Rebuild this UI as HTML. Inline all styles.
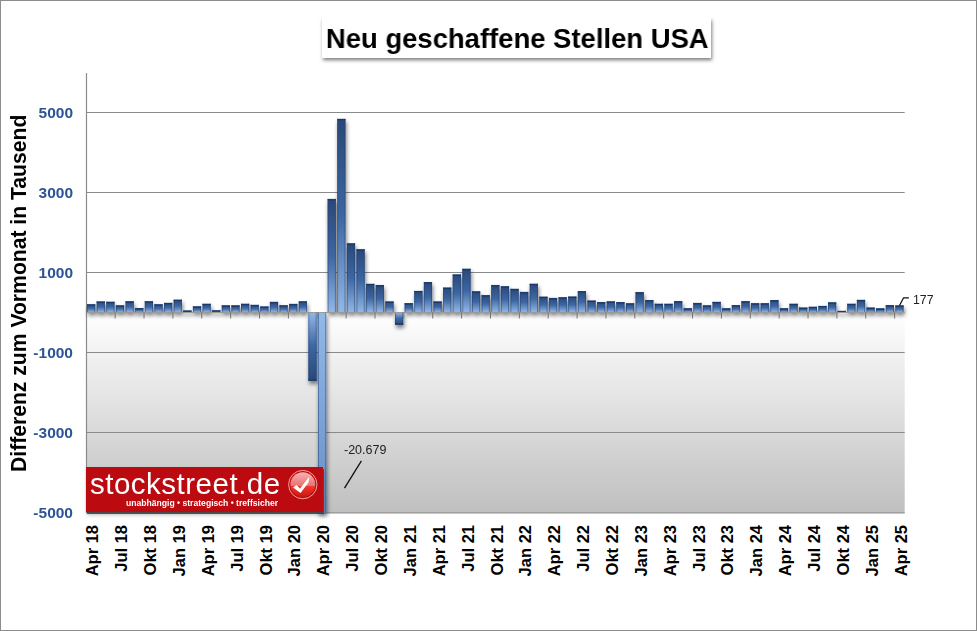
<!DOCTYPE html>
<html><head><meta charset="utf-8">
<style>
html,body{margin:0;padding:0;}
.title span,.yl,.ann,.logo .big,.logo .tag{will-change:transform;}
body{width:977px;height:631px;position:relative;overflow:hidden;background:#fff;font-family:"Liberation Sans",sans-serif;}
.frame{position:absolute;left:0;top:0;width:975px;height:629px;border:1px solid #8c8c8c;}
.title{position:absolute;left:322px;top:17px;width:389px;height:41px;background:#fff;box-shadow:1px 2.5px 3.5px rgba(0,0,0,0.5);}
.title span{position:absolute;left:0;top:5.5px;width:389px;white-space:nowrap;text-align:center;font-weight:bold;font-size:28px;line-height:32px;color:#000;transform:scaleX(0.98);}
svg{position:absolute;left:0;top:0;}
.xl{position:absolute;top:525px;width:0;height:0;transform-origin:0 0;transform:rotate(-90deg);}
.xl span{position:absolute;right:0;top:-10px;line-height:20px;white-space:nowrap;font-weight:bold;font-size:16.5px;color:#000;}
.yl{position:absolute;right:904px;width:60px;text-align:right;font-weight:bold;font-size:15.5px;line-height:18px;color:#2b5592;}
.ytwrap{position:absolute;left:19px;top:471.5px;width:0;height:0;transform-origin:0 0;transform:rotate(-90deg);}
.ytitle{position:absolute;left:0;top:-12px;white-space:nowrap;font-weight:bold;font-size:21.5px;line-height:24px;color:#000;transform-origin:0 50%;transform:scaleX(0.983);}
.logo{position:absolute;left:86px;top:467px;width:237px;height:45px;background:#bb0a10;box-shadow:0.5px 1.5px 0.5px rgba(60,60,60,0.8),1px 3px 4px rgba(0,0,0,0.25);overflow:hidden;}
.logo .big{position:absolute;left:3.5px;top:0.3px;font-size:29.5px;line-height:34px;color:#fff;white-space:nowrap;letter-spacing:0.5px;}
.logo .tag{position:absolute;left:40px;top:31px;font-size:8.6px;line-height:10px;font-weight:bold;color:#fff;white-space:nowrap;}
.ann{position:absolute;font-size:12.5px;line-height:14px;color:#222;white-space:nowrap;}
</style></head><body>
<div class="frame"></div>
<svg width="977" height="631" viewBox="0 0 977 631">
<defs>
<linearGradient id="bg" x1="0" y1="0" x2="0" y2="1"><stop offset="0" stop-color="#ffffff"/><stop offset="1" stop-color="#bfbfbf"/></linearGradient>
<linearGradient id="gp" x1="0" y1="0" x2="0" y2="1"><stop offset="0" stop-color="#2a4877"/><stop offset="0.5" stop-color="#3c66a2"/><stop offset="1" stop-color="#92b8e8"/></linearGradient>
<filter id="sh" x="-10%" y="-10%" width="130%" height="130%"><feGaussianBlur in="SourceAlpha" stdDeviation="2.0"/><feOffset dx="0.6" dy="3.2" result="b"/><feComponentTransfer><feFuncA type="linear" slope="0.52"/></feComponentTransfer><feMerge><feMergeNode/><feMergeNode in="SourceGraphic"/></feMerge></filter>
</defs>
<rect x="86.5" y="312.5" width="818.2" height="200.5" fill="url(#bg)"/>
<line x1="86.5" y1="112.5" x2="904.7" y2="112.5" stroke="#8a8a8a" stroke-width="1.2"/><line x1="86.5" y1="192.5" x2="904.7" y2="192.5" stroke="#8a8a8a" stroke-width="1.2"/><line x1="86.5" y1="272.5" x2="904.7" y2="272.5" stroke="#8a8a8a" stroke-width="1.2"/><line x1="86.5" y1="352.5" x2="904.7" y2="352.5" stroke="#8a8a8a" stroke-width="1.2"/><line x1="86.5" y1="432.5" x2="904.7" y2="432.5" stroke="#8a8a8a" stroke-width="1.2"/>
<line x1="86.5" y1="512.9" x2="904.7" y2="512.9" stroke="#959595" stroke-width="1.2"/>
<line x1="86.5" y1="73" x2="86.5" y2="513" stroke="#8a8a8a" stroke-width="1.2"/>
<g filter="url(#sh)">
<rect x="87.05" y="304.20" width="8.2" height="8.20" fill="url(#gp)"/>
<rect x="87.05" y="304.20" width="0.9" height="8.20" fill="#1f3f70" opacity="0.55"/><rect x="94.35" y="304.20" width="0.9" height="8.20" fill="#1f3f70" opacity="0.55"/>
<rect x="87.05" y="304.50" width="8.2" height="1.2" fill="#1a3868"/>
<rect x="96.67" y="301.40" width="8.2" height="11.00" fill="url(#gp)"/>
<rect x="96.67" y="301.40" width="0.9" height="11.00" fill="#1f3f70" opacity="0.55"/><rect x="103.97" y="301.40" width="0.9" height="11.00" fill="#1f3f70" opacity="0.55"/>
<rect x="96.67" y="301.70" width="8.2" height="1.2" fill="#1a3868"/>
<rect x="106.30" y="301.68" width="8.2" height="10.72" fill="url(#gp)"/>
<rect x="106.30" y="301.68" width="0.9" height="10.72" fill="#1f3f70" opacity="0.55"/><rect x="113.60" y="301.68" width="0.9" height="10.72" fill="#1f3f70" opacity="0.55"/>
<rect x="106.30" y="301.98" width="8.2" height="1.2" fill="#1a3868"/>
<rect x="115.92" y="305.28" width="8.2" height="7.12" fill="url(#gp)"/>
<rect x="115.92" y="305.28" width="0.9" height="7.12" fill="#1f3f70" opacity="0.55"/><rect x="123.22" y="305.28" width="0.9" height="7.12" fill="#1f3f70" opacity="0.55"/>
<rect x="115.92" y="305.58" width="8.2" height="1.2" fill="#1a3868"/>
<rect x="125.54" y="301.20" width="8.2" height="11.20" fill="url(#gp)"/>
<rect x="125.54" y="301.20" width="0.9" height="11.20" fill="#1f3f70" opacity="0.55"/><rect x="132.84" y="301.20" width="0.9" height="11.20" fill="#1f3f70" opacity="0.55"/>
<rect x="125.54" y="301.50" width="8.2" height="1.2" fill="#1a3868"/>
<rect x="135.16" y="308.00" width="8.2" height="4.40" fill="url(#gp)"/>
<rect x="135.16" y="308.00" width="0.9" height="4.40" fill="#1f3f70" opacity="0.55"/><rect x="142.46" y="308.00" width="0.9" height="4.40" fill="#1f3f70" opacity="0.55"/>
<rect x="135.16" y="308.30" width="8.2" height="1.2" fill="#1a3868"/>
<rect x="144.79" y="301.20" width="8.2" height="11.20" fill="url(#gp)"/>
<rect x="144.79" y="301.20" width="0.9" height="11.20" fill="#1f3f70" opacity="0.55"/><rect x="152.09" y="301.20" width="0.9" height="11.20" fill="#1f3f70" opacity="0.55"/>
<rect x="144.79" y="301.50" width="8.2" height="1.2" fill="#1a3868"/>
<rect x="154.41" y="304.20" width="8.2" height="8.20" fill="url(#gp)"/>
<rect x="154.41" y="304.20" width="0.9" height="8.20" fill="#1f3f70" opacity="0.55"/><rect x="161.71" y="304.20" width="0.9" height="8.20" fill="#1f3f70" opacity="0.55"/>
<rect x="154.41" y="304.50" width="8.2" height="1.2" fill="#1a3868"/>
<rect x="164.03" y="302.80" width="8.2" height="9.60" fill="url(#gp)"/>
<rect x="164.03" y="302.80" width="0.9" height="9.60" fill="#1f3f70" opacity="0.55"/><rect x="171.33" y="302.80" width="0.9" height="9.60" fill="#1f3f70" opacity="0.55"/>
<rect x="164.03" y="303.10" width="8.2" height="1.2" fill="#1a3868"/>
<rect x="173.66" y="299.60" width="8.2" height="12.80" fill="url(#gp)"/>
<rect x="173.66" y="299.60" width="0.9" height="12.80" fill="#1f3f70" opacity="0.55"/><rect x="180.96" y="299.60" width="0.9" height="12.80" fill="#1f3f70" opacity="0.55"/>
<rect x="173.66" y="299.90" width="8.2" height="1.2" fill="#1a3868"/>
<rect x="183.28" y="310.40" width="8.2" height="2.00" fill="url(#gp)"/>
<rect x="183.28" y="310.40" width="0.9" height="2.00" fill="#1f3f70" opacity="0.55"/><rect x="190.58" y="310.40" width="0.9" height="2.00" fill="#1f3f70" opacity="0.55"/>
<rect x="183.28" y="310.70" width="8.2" height="1.2" fill="#1a3868"/>
<rect x="192.90" y="306.28" width="8.2" height="6.12" fill="url(#gp)"/>
<rect x="192.90" y="306.28" width="0.9" height="6.12" fill="#1f3f70" opacity="0.55"/><rect x="200.20" y="306.28" width="0.9" height="6.12" fill="#1f3f70" opacity="0.55"/>
<rect x="192.90" y="306.58" width="8.2" height="1.2" fill="#1a3868"/>
<rect x="202.53" y="303.68" width="8.2" height="8.72" fill="url(#gp)"/>
<rect x="202.53" y="303.68" width="0.9" height="8.72" fill="#1f3f70" opacity="0.55"/><rect x="209.83" y="303.68" width="0.9" height="8.72" fill="#1f3f70" opacity="0.55"/>
<rect x="202.53" y="303.98" width="8.2" height="1.2" fill="#1a3868"/>
<rect x="212.15" y="310.20" width="8.2" height="2.20" fill="url(#gp)"/>
<rect x="212.15" y="310.20" width="0.9" height="2.20" fill="#1f3f70" opacity="0.55"/><rect x="219.45" y="310.20" width="0.9" height="2.20" fill="#1f3f70" opacity="0.55"/>
<rect x="212.15" y="310.50" width="8.2" height="1.2" fill="#1a3868"/>
<rect x="221.77" y="305.28" width="8.2" height="7.12" fill="url(#gp)"/>
<rect x="221.77" y="305.28" width="0.9" height="7.12" fill="#1f3f70" opacity="0.55"/><rect x="229.07" y="305.28" width="0.9" height="7.12" fill="#1f3f70" opacity="0.55"/>
<rect x="221.77" y="305.58" width="8.2" height="1.2" fill="#1a3868"/>
<rect x="231.39" y="305.28" width="8.2" height="7.12" fill="url(#gp)"/>
<rect x="231.39" y="305.28" width="0.9" height="7.12" fill="#1f3f70" opacity="0.55"/><rect x="238.69" y="305.28" width="0.9" height="7.12" fill="#1f3f70" opacity="0.55"/>
<rect x="231.39" y="305.58" width="8.2" height="1.2" fill="#1a3868"/>
<rect x="241.02" y="303.68" width="8.2" height="8.72" fill="url(#gp)"/>
<rect x="241.02" y="303.68" width="0.9" height="8.72" fill="#1f3f70" opacity="0.55"/><rect x="248.32" y="303.68" width="0.9" height="8.72" fill="#1f3f70" opacity="0.55"/>
<rect x="241.02" y="303.98" width="8.2" height="1.2" fill="#1a3868"/>
<rect x="250.64" y="304.80" width="8.2" height="7.60" fill="url(#gp)"/>
<rect x="250.64" y="304.80" width="0.9" height="7.60" fill="#1f3f70" opacity="0.55"/><rect x="257.94" y="304.80" width="0.9" height="7.60" fill="#1f3f70" opacity="0.55"/>
<rect x="250.64" y="305.10" width="8.2" height="1.2" fill="#1a3868"/>
<rect x="260.26" y="306.40" width="8.2" height="6.00" fill="url(#gp)"/>
<rect x="260.26" y="306.40" width="0.9" height="6.00" fill="#1f3f70" opacity="0.55"/><rect x="267.56" y="306.40" width="0.9" height="6.00" fill="#1f3f70" opacity="0.55"/>
<rect x="260.26" y="306.70" width="8.2" height="1.2" fill="#1a3868"/>
<rect x="269.89" y="301.80" width="8.2" height="10.60" fill="url(#gp)"/>
<rect x="269.89" y="301.80" width="0.9" height="10.60" fill="#1f3f70" opacity="0.55"/><rect x="277.19" y="301.80" width="0.9" height="10.60" fill="#1f3f70" opacity="0.55"/>
<rect x="269.89" y="302.10" width="8.2" height="1.2" fill="#1a3868"/>
<rect x="279.51" y="305.20" width="8.2" height="7.20" fill="url(#gp)"/>
<rect x="279.51" y="305.20" width="0.9" height="7.20" fill="#1f3f70" opacity="0.55"/><rect x="286.81" y="305.20" width="0.9" height="7.20" fill="#1f3f70" opacity="0.55"/>
<rect x="279.51" y="305.50" width="8.2" height="1.2" fill="#1a3868"/>
<rect x="289.13" y="303.84" width="8.2" height="8.56" fill="url(#gp)"/>
<rect x="289.13" y="303.84" width="0.9" height="8.56" fill="#1f3f70" opacity="0.55"/><rect x="296.43" y="303.84" width="0.9" height="8.56" fill="#1f3f70" opacity="0.55"/>
<rect x="289.13" y="304.14" width="8.2" height="1.2" fill="#1a3868"/>
<rect x="298.76" y="301.28" width="8.2" height="11.12" fill="url(#gp)"/>
<rect x="298.76" y="301.28" width="0.9" height="11.12" fill="#1f3f70" opacity="0.55"/><rect x="306.06" y="301.28" width="0.9" height="11.12" fill="#1f3f70" opacity="0.55"/>
<rect x="298.76" y="301.58" width="8.2" height="1.2" fill="#1a3868"/>
<linearGradient id="gn23" gradientUnits="userSpaceOnUse" x1="0" y1="312.4" x2="0" y2="380.92"><stop offset="0" stop-color="#92b8e8"/><stop offset="0.5" stop-color="#3c66a2"/><stop offset="1" stop-color="#2a4877"/></linearGradient>
<rect x="308.38" y="313.00" width="8.2" height="67.92" fill="url(#gn23)"/>
<rect x="308.38" y="313.00" width="0.9" height="67.92" fill="#1f3f70" opacity="0.55"/><rect x="315.68" y="313.00" width="0.9" height="67.92" fill="#1f3f70" opacity="0.55"/>
<rect x="308.38" y="379.42" width="8.2" height="1.2" fill="#1a3868"/>
<linearGradient id="gn24" gradientUnits="userSpaceOnUse" x1="0" y1="312.4" x2="0" y2="1139.56"><stop offset="0" stop-color="#92b8e8"/><stop offset="0.5" stop-color="#3c66a2"/><stop offset="1" stop-color="#2a4877"/></linearGradient>
<rect x="318.00" y="313.00" width="8.2" height="200.00" fill="url(#gn24)"/>
<rect x="318.00" y="313.00" width="0.9" height="200.00" fill="#1f3f70" opacity="0.55"/><rect x="325.30" y="313.00" width="0.9" height="200.00" fill="#1f3f70" opacity="0.55"/>
<rect x="327.62" y="198.88" width="8.2" height="113.52" fill="url(#gp)"/>
<rect x="327.62" y="198.88" width="0.9" height="113.52" fill="#1f3f70" opacity="0.55"/><rect x="334.93" y="198.88" width="0.9" height="113.52" fill="#1f3f70" opacity="0.55"/>
<rect x="327.62" y="199.18" width="8.2" height="1.2" fill="#1a3868"/>
<rect x="337.25" y="118.80" width="8.2" height="193.60" fill="url(#gp)"/>
<rect x="337.25" y="118.80" width="0.9" height="193.60" fill="#1f3f70" opacity="0.55"/><rect x="344.55" y="118.80" width="0.9" height="193.60" fill="#1f3f70" opacity="0.55"/>
<rect x="337.25" y="119.10" width="8.2" height="1.2" fill="#1a3868"/>
<rect x="346.87" y="243.28" width="8.2" height="69.12" fill="url(#gp)"/>
<rect x="346.87" y="243.28" width="0.9" height="69.12" fill="#1f3f70" opacity="0.55"/><rect x="354.17" y="243.28" width="0.9" height="69.12" fill="#1f3f70" opacity="0.55"/>
<rect x="346.87" y="243.58" width="8.2" height="1.2" fill="#1a3868"/>
<rect x="356.49" y="249.20" width="8.2" height="63.20" fill="url(#gp)"/>
<rect x="356.49" y="249.20" width="0.9" height="63.20" fill="#1f3f70" opacity="0.55"/><rect x="363.79" y="249.20" width="0.9" height="63.20" fill="#1f3f70" opacity="0.55"/>
<rect x="356.49" y="249.50" width="8.2" height="1.2" fill="#1a3868"/>
<rect x="366.12" y="283.76" width="8.2" height="28.64" fill="url(#gp)"/>
<rect x="366.12" y="283.76" width="0.9" height="28.64" fill="#1f3f70" opacity="0.55"/><rect x="373.42" y="283.76" width="0.9" height="28.64" fill="#1f3f70" opacity="0.55"/>
<rect x="366.12" y="284.06" width="8.2" height="1.2" fill="#1a3868"/>
<rect x="375.74" y="284.96" width="8.2" height="27.44" fill="url(#gp)"/>
<rect x="375.74" y="284.96" width="0.9" height="27.44" fill="#1f3f70" opacity="0.55"/><rect x="383.04" y="284.96" width="0.9" height="27.44" fill="#1f3f70" opacity="0.55"/>
<rect x="375.74" y="285.26" width="8.2" height="1.2" fill="#1a3868"/>
<rect x="385.36" y="301.40" width="8.2" height="11.00" fill="url(#gp)"/>
<rect x="385.36" y="301.40" width="0.9" height="11.00" fill="#1f3f70" opacity="0.55"/><rect x="392.66" y="301.40" width="0.9" height="11.00" fill="#1f3f70" opacity="0.55"/>
<rect x="385.36" y="301.70" width="8.2" height="1.2" fill="#1a3868"/>
<linearGradient id="gn32" gradientUnits="userSpaceOnUse" x1="0" y1="312.4" x2="0" y2="324.92"><stop offset="0" stop-color="#92b8e8"/><stop offset="0.5" stop-color="#3c66a2"/><stop offset="1" stop-color="#2a4877"/></linearGradient>
<rect x="394.99" y="313.00" width="8.2" height="11.92" fill="url(#gn32)"/>
<rect x="394.99" y="313.00" width="0.9" height="11.92" fill="#1f3f70" opacity="0.55"/><rect x="402.29" y="313.00" width="0.9" height="11.92" fill="#1f3f70" opacity="0.55"/>
<rect x="394.99" y="323.42" width="8.2" height="1.2" fill="#1a3868"/>
<rect x="404.61" y="303.08" width="8.2" height="9.32" fill="url(#gp)"/>
<rect x="404.61" y="303.08" width="0.9" height="9.32" fill="#1f3f70" opacity="0.55"/><rect x="411.91" y="303.08" width="0.9" height="9.32" fill="#1f3f70" opacity="0.55"/>
<rect x="404.61" y="303.38" width="8.2" height="1.2" fill="#1a3868"/>
<rect x="414.23" y="290.88" width="8.2" height="21.52" fill="url(#gp)"/>
<rect x="414.23" y="290.88" width="0.9" height="21.52" fill="#1f3f70" opacity="0.55"/><rect x="421.53" y="290.88" width="0.9" height="21.52" fill="#1f3f70" opacity="0.55"/>
<rect x="414.23" y="291.18" width="8.2" height="1.2" fill="#1a3868"/>
<rect x="423.85" y="282.00" width="8.2" height="30.40" fill="url(#gp)"/>
<rect x="423.85" y="282.00" width="0.9" height="30.40" fill="#1f3f70" opacity="0.55"/><rect x="431.15" y="282.00" width="0.9" height="30.40" fill="#1f3f70" opacity="0.55"/>
<rect x="423.85" y="282.30" width="8.2" height="1.2" fill="#1a3868"/>
<rect x="433.48" y="301.40" width="8.2" height="11.00" fill="url(#gp)"/>
<rect x="433.48" y="301.40" width="0.9" height="11.00" fill="#1f3f70" opacity="0.55"/><rect x="440.78" y="301.40" width="0.9" height="11.00" fill="#1f3f70" opacity="0.55"/>
<rect x="433.48" y="301.70" width="8.2" height="1.2" fill="#1a3868"/>
<rect x="443.10" y="287.48" width="8.2" height="24.92" fill="url(#gp)"/>
<rect x="443.10" y="287.48" width="0.9" height="24.92" fill="#1f3f70" opacity="0.55"/><rect x="450.40" y="287.48" width="0.9" height="24.92" fill="#1f3f70" opacity="0.55"/>
<rect x="443.10" y="287.78" width="8.2" height="1.2" fill="#1a3868"/>
<rect x="452.72" y="274.40" width="8.2" height="38.00" fill="url(#gp)"/>
<rect x="452.72" y="274.40" width="0.9" height="38.00" fill="#1f3f70" opacity="0.55"/><rect x="460.02" y="274.40" width="0.9" height="38.00" fill="#1f3f70" opacity="0.55"/>
<rect x="452.72" y="274.70" width="8.2" height="1.2" fill="#1a3868"/>
<rect x="462.35" y="268.68" width="8.2" height="43.72" fill="url(#gp)"/>
<rect x="462.35" y="268.68" width="0.9" height="43.72" fill="#1f3f70" opacity="0.55"/><rect x="469.65" y="268.68" width="0.9" height="43.72" fill="#1f3f70" opacity="0.55"/>
<rect x="462.35" y="268.98" width="8.2" height="1.2" fill="#1a3868"/>
<rect x="471.97" y="291.28" width="8.2" height="21.12" fill="url(#gp)"/>
<rect x="471.97" y="291.28" width="0.9" height="21.12" fill="#1f3f70" opacity="0.55"/><rect x="479.27" y="291.28" width="0.9" height="21.12" fill="#1f3f70" opacity="0.55"/>
<rect x="471.97" y="291.58" width="8.2" height="1.2" fill="#1a3868"/>
<rect x="481.59" y="295.08" width="8.2" height="17.32" fill="url(#gp)"/>
<rect x="481.59" y="295.08" width="0.9" height="17.32" fill="#1f3f70" opacity="0.55"/><rect x="488.89" y="295.08" width="0.9" height="17.32" fill="#1f3f70" opacity="0.55"/>
<rect x="481.59" y="295.38" width="8.2" height="1.2" fill="#1a3868"/>
<rect x="491.22" y="284.96" width="8.2" height="27.44" fill="url(#gp)"/>
<rect x="491.22" y="284.96" width="0.9" height="27.44" fill="#1f3f70" opacity="0.55"/><rect x="498.52" y="284.96" width="0.9" height="27.44" fill="#1f3f70" opacity="0.55"/>
<rect x="491.22" y="285.26" width="8.2" height="1.2" fill="#1a3868"/>
<rect x="500.84" y="286.20" width="8.2" height="26.20" fill="url(#gp)"/>
<rect x="500.84" y="286.20" width="0.9" height="26.20" fill="#1f3f70" opacity="0.55"/><rect x="508.14" y="286.20" width="0.9" height="26.20" fill="#1f3f70" opacity="0.55"/>
<rect x="500.84" y="286.50" width="8.2" height="1.2" fill="#1a3868"/>
<rect x="510.46" y="288.76" width="8.2" height="23.64" fill="url(#gp)"/>
<rect x="510.46" y="288.76" width="0.9" height="23.64" fill="#1f3f70" opacity="0.55"/><rect x="517.76" y="288.76" width="0.9" height="23.64" fill="#1f3f70" opacity="0.55"/>
<rect x="510.46" y="289.06" width="8.2" height="1.2" fill="#1a3868"/>
<rect x="520.08" y="291.88" width="8.2" height="20.52" fill="url(#gp)"/>
<rect x="520.08" y="291.88" width="0.9" height="20.52" fill="#1f3f70" opacity="0.55"/><rect x="527.38" y="291.88" width="0.9" height="20.52" fill="#1f3f70" opacity="0.55"/>
<rect x="520.08" y="292.18" width="8.2" height="1.2" fill="#1a3868"/>
<rect x="529.71" y="283.68" width="8.2" height="28.72" fill="url(#gp)"/>
<rect x="529.71" y="283.68" width="0.9" height="28.72" fill="#1f3f70" opacity="0.55"/><rect x="537.01" y="283.68" width="0.9" height="28.72" fill="#1f3f70" opacity="0.55"/>
<rect x="529.71" y="283.98" width="8.2" height="1.2" fill="#1a3868"/>
<rect x="539.33" y="296.60" width="8.2" height="15.80" fill="url(#gp)"/>
<rect x="539.33" y="296.60" width="0.9" height="15.80" fill="#1f3f70" opacity="0.55"/><rect x="546.63" y="296.60" width="0.9" height="15.80" fill="#1f3f70" opacity="0.55"/>
<rect x="539.33" y="296.90" width="8.2" height="1.2" fill="#1a3868"/>
<rect x="548.95" y="297.88" width="8.2" height="14.52" fill="url(#gp)"/>
<rect x="548.95" y="297.88" width="0.9" height="14.52" fill="#1f3f70" opacity="0.55"/><rect x="556.25" y="297.88" width="0.9" height="14.52" fill="#1f3f70" opacity="0.55"/>
<rect x="548.95" y="298.18" width="8.2" height="1.2" fill="#1a3868"/>
<rect x="558.58" y="297.20" width="8.2" height="15.20" fill="url(#gp)"/>
<rect x="558.58" y="297.20" width="0.9" height="15.20" fill="#1f3f70" opacity="0.55"/><rect x="565.88" y="297.20" width="0.9" height="15.20" fill="#1f3f70" opacity="0.55"/>
<rect x="558.58" y="297.50" width="8.2" height="1.2" fill="#1a3868"/>
<rect x="568.20" y="296.48" width="8.2" height="15.92" fill="url(#gp)"/>
<rect x="568.20" y="296.48" width="0.9" height="15.92" fill="#1f3f70" opacity="0.55"/><rect x="575.50" y="296.48" width="0.9" height="15.92" fill="#1f3f70" opacity="0.55"/>
<rect x="568.20" y="296.78" width="8.2" height="1.2" fill="#1a3868"/>
<rect x="577.82" y="291.08" width="8.2" height="21.32" fill="url(#gp)"/>
<rect x="577.82" y="291.08" width="0.9" height="21.32" fill="#1f3f70" opacity="0.55"/><rect x="585.12" y="291.08" width="0.9" height="21.32" fill="#1f3f70" opacity="0.55"/>
<rect x="577.82" y="291.38" width="8.2" height="1.2" fill="#1a3868"/>
<rect x="587.45" y="300.48" width="8.2" height="11.92" fill="url(#gp)"/>
<rect x="587.45" y="300.48" width="0.9" height="11.92" fill="#1f3f70" opacity="0.55"/><rect x="594.75" y="300.48" width="0.9" height="11.92" fill="#1f3f70" opacity="0.55"/>
<rect x="587.45" y="300.78" width="8.2" height="1.2" fill="#1a3868"/>
<rect x="597.07" y="302.00" width="8.2" height="10.40" fill="url(#gp)"/>
<rect x="597.07" y="302.00" width="0.9" height="10.40" fill="#1f3f70" opacity="0.55"/><rect x="604.37" y="302.00" width="0.9" height="10.40" fill="#1f3f70" opacity="0.55"/>
<rect x="597.07" y="302.30" width="8.2" height="1.2" fill="#1a3868"/>
<rect x="606.69" y="301.28" width="8.2" height="11.12" fill="url(#gp)"/>
<rect x="606.69" y="301.28" width="0.9" height="11.12" fill="#1f3f70" opacity="0.55"/><rect x="613.99" y="301.28" width="0.9" height="11.12" fill="#1f3f70" opacity="0.55"/>
<rect x="606.69" y="301.58" width="8.2" height="1.2" fill="#1a3868"/>
<rect x="616.31" y="302.00" width="8.2" height="10.40" fill="url(#gp)"/>
<rect x="616.31" y="302.00" width="0.9" height="10.40" fill="#1f3f70" opacity="0.55"/><rect x="623.62" y="302.00" width="0.9" height="10.40" fill="#1f3f70" opacity="0.55"/>
<rect x="616.31" y="302.30" width="8.2" height="1.2" fill="#1a3868"/>
<rect x="625.94" y="303.20" width="8.2" height="9.20" fill="url(#gp)"/>
<rect x="625.94" y="303.20" width="0.9" height="9.20" fill="#1f3f70" opacity="0.55"/><rect x="633.24" y="303.20" width="0.9" height="9.20" fill="#1f3f70" opacity="0.55"/>
<rect x="625.94" y="303.50" width="8.2" height="1.2" fill="#1a3868"/>
<rect x="635.56" y="292.08" width="8.2" height="20.32" fill="url(#gp)"/>
<rect x="635.56" y="292.08" width="0.9" height="20.32" fill="#1f3f70" opacity="0.55"/><rect x="642.86" y="292.08" width="0.9" height="20.32" fill="#1f3f70" opacity="0.55"/>
<rect x="635.56" y="292.38" width="8.2" height="1.2" fill="#1a3868"/>
<rect x="645.18" y="300.00" width="8.2" height="12.40" fill="url(#gp)"/>
<rect x="645.18" y="300.00" width="0.9" height="12.40" fill="#1f3f70" opacity="0.55"/><rect x="652.48" y="300.00" width="0.9" height="12.40" fill="#1f3f70" opacity="0.55"/>
<rect x="645.18" y="300.30" width="8.2" height="1.2" fill="#1a3868"/>
<rect x="654.81" y="303.68" width="8.2" height="8.72" fill="url(#gp)"/>
<rect x="654.81" y="303.68" width="0.9" height="8.72" fill="#1f3f70" opacity="0.55"/><rect x="662.11" y="303.68" width="0.9" height="8.72" fill="#1f3f70" opacity="0.55"/>
<rect x="654.81" y="303.98" width="8.2" height="1.2" fill="#1a3868"/>
<rect x="664.43" y="303.68" width="8.2" height="8.72" fill="url(#gp)"/>
<rect x="664.43" y="303.68" width="0.9" height="8.72" fill="#1f3f70" opacity="0.55"/><rect x="671.73" y="303.68" width="0.9" height="8.72" fill="#1f3f70" opacity="0.55"/>
<rect x="664.43" y="303.98" width="8.2" height="1.2" fill="#1a3868"/>
<rect x="674.05" y="301.08" width="8.2" height="11.32" fill="url(#gp)"/>
<rect x="674.05" y="301.08" width="0.9" height="11.32" fill="#1f3f70" opacity="0.55"/><rect x="681.35" y="301.08" width="0.9" height="11.32" fill="#1f3f70" opacity="0.55"/>
<rect x="674.05" y="301.38" width="8.2" height="1.2" fill="#1a3868"/>
<rect x="683.68" y="308.20" width="8.2" height="4.20" fill="url(#gp)"/>
<rect x="683.68" y="308.20" width="0.9" height="4.20" fill="#1f3f70" opacity="0.55"/><rect x="690.98" y="308.20" width="0.9" height="4.20" fill="#1f3f70" opacity="0.55"/>
<rect x="683.68" y="308.50" width="8.2" height="1.2" fill="#1a3868"/>
<rect x="693.30" y="302.88" width="8.2" height="9.52" fill="url(#gp)"/>
<rect x="693.30" y="302.88" width="0.9" height="9.52" fill="#1f3f70" opacity="0.55"/><rect x="700.60" y="302.88" width="0.9" height="9.52" fill="#1f3f70" opacity="0.55"/>
<rect x="693.30" y="303.18" width="8.2" height="1.2" fill="#1a3868"/>
<rect x="702.92" y="305.28" width="8.2" height="7.12" fill="url(#gp)"/>
<rect x="702.92" y="305.28" width="0.9" height="7.12" fill="#1f3f70" opacity="0.55"/><rect x="710.22" y="305.28" width="0.9" height="7.12" fill="#1f3f70" opacity="0.55"/>
<rect x="702.92" y="305.58" width="8.2" height="1.2" fill="#1a3868"/>
<rect x="712.54" y="301.80" width="8.2" height="10.60" fill="url(#gp)"/>
<rect x="712.54" y="301.80" width="0.9" height="10.60" fill="#1f3f70" opacity="0.55"/><rect x="719.85" y="301.80" width="0.9" height="10.60" fill="#1f3f70" opacity="0.55"/>
<rect x="712.54" y="302.10" width="8.2" height="1.2" fill="#1a3868"/>
<rect x="722.17" y="308.20" width="8.2" height="4.20" fill="url(#gp)"/>
<rect x="722.17" y="308.20" width="0.9" height="4.20" fill="#1f3f70" opacity="0.55"/><rect x="729.47" y="308.20" width="0.9" height="4.20" fill="#1f3f70" opacity="0.55"/>
<rect x="722.17" y="308.50" width="8.2" height="1.2" fill="#1a3868"/>
<rect x="731.79" y="305.08" width="8.2" height="7.32" fill="url(#gp)"/>
<rect x="731.79" y="305.08" width="0.9" height="7.32" fill="#1f3f70" opacity="0.55"/><rect x="739.09" y="305.08" width="0.9" height="7.32" fill="#1f3f70" opacity="0.55"/>
<rect x="731.79" y="305.38" width="8.2" height="1.2" fill="#1a3868"/>
<rect x="741.41" y="301.08" width="8.2" height="11.32" fill="url(#gp)"/>
<rect x="741.41" y="301.08" width="0.9" height="11.32" fill="#1f3f70" opacity="0.55"/><rect x="748.71" y="301.08" width="0.9" height="11.32" fill="#1f3f70" opacity="0.55"/>
<rect x="741.41" y="301.38" width="8.2" height="1.2" fill="#1a3868"/>
<rect x="751.04" y="303.16" width="8.2" height="9.24" fill="url(#gp)"/>
<rect x="751.04" y="303.16" width="0.9" height="9.24" fill="#1f3f70" opacity="0.55"/><rect x="758.34" y="303.16" width="0.9" height="9.24" fill="#1f3f70" opacity="0.55"/>
<rect x="751.04" y="303.46" width="8.2" height="1.2" fill="#1a3868"/>
<rect x="760.66" y="303.16" width="8.2" height="9.24" fill="url(#gp)"/>
<rect x="760.66" y="303.16" width="0.9" height="9.24" fill="#1f3f70" opacity="0.55"/><rect x="767.96" y="303.16" width="0.9" height="9.24" fill="#1f3f70" opacity="0.55"/>
<rect x="760.66" y="303.46" width="8.2" height="1.2" fill="#1a3868"/>
<rect x="770.28" y="300.00" width="8.2" height="12.40" fill="url(#gp)"/>
<rect x="770.28" y="300.00" width="0.9" height="12.40" fill="#1f3f70" opacity="0.55"/><rect x="777.58" y="300.00" width="0.9" height="12.40" fill="#1f3f70" opacity="0.55"/>
<rect x="770.28" y="300.30" width="8.2" height="1.2" fill="#1a3868"/>
<rect x="779.91" y="308.20" width="8.2" height="4.20" fill="url(#gp)"/>
<rect x="779.91" y="308.20" width="0.9" height="4.20" fill="#1f3f70" opacity="0.55"/><rect x="787.21" y="308.20" width="0.9" height="4.20" fill="#1f3f70" opacity="0.55"/>
<rect x="779.91" y="308.50" width="8.2" height="1.2" fill="#1a3868"/>
<rect x="789.53" y="303.68" width="8.2" height="8.72" fill="url(#gp)"/>
<rect x="789.53" y="303.68" width="0.9" height="8.72" fill="#1f3f70" opacity="0.55"/><rect x="796.83" y="303.68" width="0.9" height="8.72" fill="#1f3f70" opacity="0.55"/>
<rect x="789.53" y="303.98" width="8.2" height="1.2" fill="#1a3868"/>
<rect x="799.15" y="307.48" width="8.2" height="4.92" fill="url(#gp)"/>
<rect x="799.15" y="307.48" width="0.9" height="4.92" fill="#1f3f70" opacity="0.55"/><rect x="806.45" y="307.48" width="0.9" height="4.92" fill="#1f3f70" opacity="0.55"/>
<rect x="799.15" y="307.78" width="8.2" height="1.2" fill="#1a3868"/>
<rect x="808.77" y="306.68" width="8.2" height="5.72" fill="url(#gp)"/>
<rect x="808.77" y="306.68" width="0.9" height="5.72" fill="#1f3f70" opacity="0.55"/><rect x="816.07" y="306.68" width="0.9" height="5.72" fill="#1f3f70" opacity="0.55"/>
<rect x="808.77" y="306.98" width="8.2" height="1.2" fill="#1a3868"/>
<rect x="818.40" y="305.88" width="8.2" height="6.52" fill="url(#gp)"/>
<rect x="818.40" y="305.88" width="0.9" height="6.52" fill="#1f3f70" opacity="0.55"/><rect x="825.70" y="305.88" width="0.9" height="6.52" fill="#1f3f70" opacity="0.55"/>
<rect x="818.40" y="306.18" width="8.2" height="1.2" fill="#1a3868"/>
<rect x="828.02" y="302.28" width="8.2" height="10.12" fill="url(#gp)"/>
<rect x="828.02" y="302.28" width="0.9" height="10.12" fill="#1f3f70" opacity="0.55"/><rect x="835.32" y="302.28" width="0.9" height="10.12" fill="#1f3f70" opacity="0.55"/>
<rect x="828.02" y="302.58" width="8.2" height="1.2" fill="#1a3868"/>
<rect x="837.64" y="310.80" width="8.2" height="1.60" fill="url(#gp)"/>
<rect x="837.64" y="310.80" width="0.9" height="1.60" fill="#1f3f70" opacity="0.55"/><rect x="844.94" y="310.80" width="0.9" height="1.60" fill="#1f3f70" opacity="0.55"/>
<rect x="837.64" y="311.10" width="8.2" height="1.2" fill="#1a3868"/>
<rect x="847.27" y="303.68" width="8.2" height="8.72" fill="url(#gp)"/>
<rect x="847.27" y="303.68" width="0.9" height="8.72" fill="#1f3f70" opacity="0.55"/><rect x="854.57" y="303.68" width="0.9" height="8.72" fill="#1f3f70" opacity="0.55"/>
<rect x="847.27" y="303.98" width="8.2" height="1.2" fill="#1a3868"/>
<rect x="856.89" y="299.80" width="8.2" height="12.60" fill="url(#gp)"/>
<rect x="856.89" y="299.80" width="0.9" height="12.60" fill="#1f3f70" opacity="0.55"/><rect x="864.19" y="299.80" width="0.9" height="12.60" fill="#1f3f70" opacity="0.55"/>
<rect x="856.89" y="300.10" width="8.2" height="1.2" fill="#1a3868"/>
<rect x="866.51" y="307.48" width="8.2" height="4.92" fill="url(#gp)"/>
<rect x="866.51" y="307.48" width="0.9" height="4.92" fill="#1f3f70" opacity="0.55"/><rect x="873.81" y="307.48" width="0.9" height="4.92" fill="#1f3f70" opacity="0.55"/>
<rect x="866.51" y="307.78" width="8.2" height="1.2" fill="#1a3868"/>
<rect x="876.14" y="308.28" width="8.2" height="4.12" fill="url(#gp)"/>
<rect x="876.14" y="308.28" width="0.9" height="4.12" fill="#1f3f70" opacity="0.55"/><rect x="883.44" y="308.28" width="0.9" height="4.12" fill="#1f3f70" opacity="0.55"/>
<rect x="876.14" y="308.58" width="8.2" height="1.2" fill="#1a3868"/>
<rect x="885.76" y="305.08" width="8.2" height="7.32" fill="url(#gp)"/>
<rect x="885.76" y="305.08" width="0.9" height="7.32" fill="#1f3f70" opacity="0.55"/><rect x="893.06" y="305.08" width="0.9" height="7.32" fill="#1f3f70" opacity="0.55"/>
<rect x="885.76" y="305.38" width="8.2" height="1.2" fill="#1a3868"/>
<rect x="895.38" y="305.32" width="8.2" height="7.08" fill="url(#gp)"/>
<rect x="895.38" y="305.32" width="0.9" height="7.08" fill="#1f3f70" opacity="0.55"/><rect x="902.68" y="305.32" width="0.9" height="7.08" fill="#1f3f70" opacity="0.55"/>
<rect x="895.38" y="305.62" width="8.2" height="1.2" fill="#1a3868"/>
</g>
<line x1="86.5" y1="312.5" x2="904.7" y2="312.5" stroke="#9a9a9a" stroke-width="1"/>
<line x1="115.17" y1="312.4" x2="115.17" y2="318.5" stroke="#707070" stroke-width="1"/><line x1="144.04" y1="312.4" x2="144.04" y2="318.5" stroke="#707070" stroke-width="1"/><line x1="172.91" y1="312.4" x2="172.91" y2="318.5" stroke="#707070" stroke-width="1"/><line x1="201.78" y1="312.4" x2="201.78" y2="318.5" stroke="#707070" stroke-width="1"/><line x1="230.64" y1="312.4" x2="230.64" y2="318.5" stroke="#707070" stroke-width="1"/><line x1="259.51" y1="312.4" x2="259.51" y2="318.5" stroke="#707070" stroke-width="1"/><line x1="288.38" y1="312.4" x2="288.38" y2="318.5" stroke="#707070" stroke-width="1"/><line x1="317.25" y1="312.4" x2="317.25" y2="318.5" stroke="#707070" stroke-width="1"/><line x1="346.12" y1="312.4" x2="346.12" y2="318.5" stroke="#707070" stroke-width="1"/><line x1="374.99" y1="312.4" x2="374.99" y2="318.5" stroke="#707070" stroke-width="1"/><line x1="403.86" y1="312.4" x2="403.86" y2="318.5" stroke="#707070" stroke-width="1"/><line x1="432.73" y1="312.4" x2="432.73" y2="318.5" stroke="#707070" stroke-width="1"/><line x1="461.60" y1="312.4" x2="461.60" y2="318.5" stroke="#707070" stroke-width="1"/><line x1="490.47" y1="312.4" x2="490.47" y2="318.5" stroke="#707070" stroke-width="1"/><line x1="519.33" y1="312.4" x2="519.33" y2="318.5" stroke="#707070" stroke-width="1"/><line x1="548.20" y1="312.4" x2="548.20" y2="318.5" stroke="#707070" stroke-width="1"/><line x1="577.07" y1="312.4" x2="577.07" y2="318.5" stroke="#707070" stroke-width="1"/><line x1="605.94" y1="312.4" x2="605.94" y2="318.5" stroke="#707070" stroke-width="1"/><line x1="634.81" y1="312.4" x2="634.81" y2="318.5" stroke="#707070" stroke-width="1"/><line x1="663.68" y1="312.4" x2="663.68" y2="318.5" stroke="#707070" stroke-width="1"/><line x1="692.55" y1="312.4" x2="692.55" y2="318.5" stroke="#707070" stroke-width="1"/><line x1="721.42" y1="312.4" x2="721.42" y2="318.5" stroke="#707070" stroke-width="1"/><line x1="750.29" y1="312.4" x2="750.29" y2="318.5" stroke="#707070" stroke-width="1"/><line x1="779.16" y1="312.4" x2="779.16" y2="318.5" stroke="#707070" stroke-width="1"/><line x1="808.02" y1="312.4" x2="808.02" y2="318.5" stroke="#707070" stroke-width="1"/><line x1="836.89" y1="312.4" x2="836.89" y2="318.5" stroke="#707070" stroke-width="1"/><line x1="865.76" y1="312.4" x2="865.76" y2="318.5" stroke="#707070" stroke-width="1"/><line x1="894.63" y1="312.4" x2="894.63" y2="318.5" stroke="#707070" stroke-width="1"/>
<line x1="344.5" y1="488.2" x2="361.4" y2="460.9" stroke="#111" stroke-width="1.3"/>
<polyline points="899.5,305.5 903.6,297.8 908.9,297.9" fill="none" stroke="#111" stroke-width="1.3"/>
</svg>
<div class="title"><span>Neu geschaffene Stellen USA</span></div>
<div class="yl" style="top:103.9px">5000</div>
<div class="yl" style="top:183.9px">3000</div>
<div class="yl" style="top:263.9px">1000</div>
<div class="yl" style="top:343.9px">-1000</div>
<div class="yl" style="top:423.9px">-3000</div>
<div class="yl" style="top:503.9px">-5000</div>
<div class="xl" style="left:92.3px"><span>Apr 18</span></div>
<div class="xl" style="left:121.2px"><span>Jul 18</span></div>
<div class="xl" style="left:150.0px"><span>Okt 18</span></div>
<div class="xl" style="left:178.9px"><span>Jan 19</span></div>
<div class="xl" style="left:207.8px"><span>Apr 19</span></div>
<div class="xl" style="left:236.7px"><span>Jul 19</span></div>
<div class="xl" style="left:265.5px"><span>Okt 19</span></div>
<div class="xl" style="left:294.4px"><span>Jan 20</span></div>
<div class="xl" style="left:323.3px"><span>Apr 20</span></div>
<div class="xl" style="left:352.1px"><span>Jul 20</span></div>
<div class="xl" style="left:381.0px"><span>Okt 20</span></div>
<div class="xl" style="left:409.9px"><span>Jan 21</span></div>
<div class="xl" style="left:438.7px"><span>Apr 21</span></div>
<div class="xl" style="left:467.6px"><span>Jul 21</span></div>
<div class="xl" style="left:496.5px"><span>Okt 21</span></div>
<div class="xl" style="left:525.3px"><span>Jan 22</span></div>
<div class="xl" style="left:554.2px"><span>Apr 22</span></div>
<div class="xl" style="left:583.1px"><span>Jul 22</span></div>
<div class="xl" style="left:612.0px"><span>Okt 22</span></div>
<div class="xl" style="left:640.8px"><span>Jan 23</span></div>
<div class="xl" style="left:669.7px"><span>Apr 23</span></div>
<div class="xl" style="left:698.6px"><span>Jul 23</span></div>
<div class="xl" style="left:727.4px"><span>Okt 23</span></div>
<div class="xl" style="left:756.3px"><span>Jan 24</span></div>
<div class="xl" style="left:785.2px"><span>Apr 24</span></div>
<div class="xl" style="left:814.0px"><span>Jul 24</span></div>
<div class="xl" style="left:842.9px"><span>Okt 24</span></div>
<div class="xl" style="left:871.8px"><span>Jan 25</span></div>
<div class="xl" style="left:900.6px"><span>Apr 25</span></div>
<div class="ytwrap"><div class="ytitle" id="yt">Differenz zum Vormonat in Tausend</div></div>
<div class="logo"><div class="big">stockstreet.de</div><div class="tag">unabhängig • strategisch • treffsicher</div>

</div>
<svg width="977" height="631" style="left:0;top:0" viewBox="0 0 977 631"><defs>
<linearGradient id="cg1" x1="0" y1="0" x2="0" y2="1"><stop offset="0" stop-color="#f6b3b3"/><stop offset="0.55" stop-color="#e87272"/><stop offset="0.56" stop-color="#f03a2a"/><stop offset="1" stop-color="#d01212"/></linearGradient></defs>
<circle cx="302.8" cy="484.6" r="14.2" fill="#c40c0c" stroke="#eaa6a6" stroke-width="1"/>
<circle cx="302.8" cy="484.6" r="12.4" fill="url(#cg1)"/>
<path d="M293 487.5 L296.5 485 L300 488.5 L309.5 476.5 L308.5 482.5 L300.5 493 Z" fill="#fff"/></svg>
<div class="ann" style="left:344px;top:443px">-20.679</div>
<div class="ann" style="left:913px;top:292.5px;font-size:12.3px">177</div>
</body></html>
